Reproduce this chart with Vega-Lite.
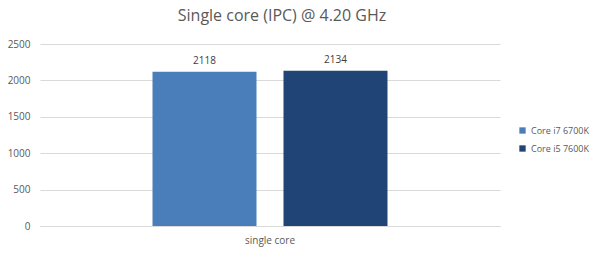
{
  "$schema": "https://vega.github.io/schema/vega-lite/v6.json",
  "width": 460,
  "height": 182,
  "autosize": {"type": "none"},
  "padding": {"left": 40, "top": 44, "right": 100, "bottom": 28},
  "background": "white",
  "config": {
    "font": "Open Sans",
    "view": {"stroke": null}
  },
  "title": {
    "text": "Single core (IPC) @ 4.20 GHz",
    "fontSize": 16,
    "fontWeight": "normal",
    "color": "#595959",
    "anchor": "middle",
    "dx": 12,
    "offset": 15
  },
  "data": {
    "values": [
      {"test": "single core", "cpu": "Core i7 6700K", "score": 2118},
      {"test": "single core", "cpu": "Core i5 7600K", "score": 2134}
    ]
  },
  "encoding": {
    "x": {
      "field": "test",
      "type": "nominal",
      "scale": {"paddingInner": 0, "paddingOuter": 0},
      "axis": {
        "title": null,
        "labelAngle": 0,
        "ticks": false,
        "domainColor": "#d9d9d9",
        "labelColor": "#595959",
        "labelFontSize": 10,
        "labelPadding": 9
      }
    },
    "xOffset": {
      "field": "cpu",
      "type": "nominal",
      "sort": ["Core i7 6700K", "Core i5 7600K"],
      "scale": {"paddingInner": 0.206, "paddingOuter": 0.859}
    },
    "y": {
      "field": "score",
      "type": "quantitative",
      "scale": {"domain": [0, 2500]},
      "axis": {
        "title": null,
        "values": [0, 500, 1000, 1500, 2000, 2500],
        "format": "d",
        "domain": false,
        "ticks": false,
        "gridColor": "#d9d9d9",
        "labelColor": "#595959",
        "labelFontSize": 10,
        "labelPadding": 10
      }
    }
  },
  "layer": [
    {
      "mark": {"type": "bar"},
      "encoding": {
        "color": {
          "field": "cpu",
          "type": "nominal",
          "sort": ["Core i7 6700K", "Core i5 7600K"],
          "scale": {"range": ["#4a7ebb", "#1f4475"]},
          "legend": {
            "title": null,
            "orient": "none",
            "legendX": 478,
            "legendY": 82,
            "symbolType": "square",
            "symbolSize": 40,
            "labelColor": "#595959",
            "labelFontSize": 9,
            "rowPadding": 8,
            "symbolStrokeWidth": 0
          }
        }
      }
    },
    {
      "mark": {"type": "text", "dy": -11, "fontSize": 10, "color": "#404040"},
      "encoding": {
        "text": {"field": "score", "type": "quantitative"}
      }
    }
  ]
}
